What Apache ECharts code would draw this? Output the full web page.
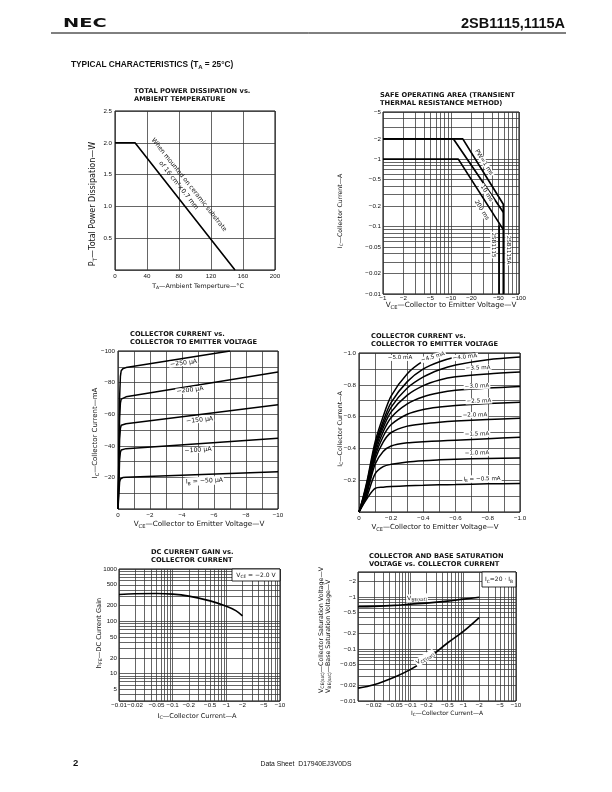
<!DOCTYPE html>
<html><head><meta charset="utf-8">
<script src="https://cdn.jsdelivr.net/npm/echarts@6/dist/echarts.min.js"></script>
<style>html,body{margin:0;padding:0;background:#fff}#c{width:612px;height:792px}</style>
</head><body><div id="c"></div>
<script>
// ================= DATA =================
// 1. Total power dissipation vs ambient temperature
const pdTempC = [0, 25, 150];
const pdPowerW = [2.0, 2.0, 0];

// 2. Safe operating area (|VCE| V, |IC| A)
const soaPw1V = [1, 14.9, 58.8, 58.8];
const soaPw1I = [2, 2, 0.214, 0.01];
const soaPw10V = [1, 10.8, 58.8];
const soaPw10I = [2, 2, 0.163];
const soaPw200V = [1, 12.8, 58.8];
const soaPw200I = [1, 1, 0.09];
const soa1115V = [51, 51];
const soa1115I = [0.105, 0.01];
const soaXLabels = [1, 2, 5, 10, 20, 50, 100];
const soaYLabels = [0.01, 0.02, 0.05, 0.1, 0.2, 0.5, 1, 2, 5];

// 3. IC (mA) vs VCE (V), IB in uA
const icmVce = [0, -0.05, -0.1, -0.15, -0.2, -0.3, -0.5, -10];
const icmIb50 = [0, -9, -17, -19, -19.6, -19.9, -20.1, -23.5];
const icmIb100 = [0, -15, -31, -36, -37.3, -37.8, -38.2, -44.8];
const icmIb150 = [0, -20, -44, -51, -53, -53.7, -54, -66];
const icmIb200 = [0, -25, -58, -67, -69.5, -70.5, -71, -86.7];
const icmVce250 = [0, -0.05, -0.1, -0.15, -0.2, -0.3, -0.5, -7];
const icmIb250 = [0, -30, -70, -84, -87.5, -88.8, -89.5, -100];

// 4. IC (A) vs VCE (V), IB in mA
const icaVce = [0, -0.025, -0.05, -0.1, -0.15, -0.2, -0.3, -0.4, -0.5, -0.6, -0.8, -1.0];
const icaIb05 = [0, -0.045, -0.085, -0.148, -0.156, -0.16, -0.165, -0.168, -0.171, -0.173, -0.177, -0.18];
const icaIb10 = [0, -0.05, -0.1, -0.24, -0.285, -0.3, -0.315, -0.323, -0.328, -0.332, -0.337, -0.34];
const icaIb15 = [0, -0.055, -0.12, -0.3, -0.38, -0.415, -0.435, -0.442, -0.447, -0.452, -0.461, -0.47];
const icaIb20 = [0, -0.06, -0.135, -0.33, -0.44, -0.5, -0.54, -0.555, -0.565, -0.572, -0.582, -0.59];
const icaIb25 = [0, -0.065, -0.145, -0.35, -0.475, -0.55, -0.615, -0.645, -0.66, -0.67, -0.682, -0.69];
const icaIb30 = [0, -0.07, -0.155, -0.37, -0.505, -0.595, -0.68, -0.725, -0.75, -0.765, -0.78, -0.79];
const icaIb35 = [0, -0.075, -0.165, -0.39, -0.53, -0.63, -0.735, -0.795, -0.83, -0.85, -0.868, -0.88];
const icaIb40 = [0, -0.08, -0.175, -0.405, -0.55, -0.66, -0.78, -0.85, -0.895, -0.925, -0.958, -0.975];
const icaVce45 = [0, -0.025, -0.05, -0.1, -0.15, -0.2, -0.3, -0.4, -0.5, -0.6, -0.72];
const icaIb45 = [0, -0.085, -0.185, -0.42, -0.57, -0.69, -0.82, -0.9, -0.945, -0.975, -1.0];
const icaVce50 = [0, -0.025, -0.05, -0.1, -0.15, -0.2, -0.3, -0.4, -0.5];
const icaIb50 = [0, -0.09, -0.195, -0.44, -0.6, -0.73, -0.87, -0.95, -1.0];

// 5. DC current gain vs |IC|
const hfeIc = [0.01, 0.02, 0.05, 0.1, 0.2, 0.5, 1, 1.5, 2];
const hfeVal = [326, 336, 340, 331, 303, 246, 194, 160, 127];
const hfeXLabels = [0.01, 0.02, 0.05, 0.1, 0.2, 0.5, 1, 2, 5, 10];
const hfeYLabels = [5, 10, 20, 50, 100, 200, 500, 1000];

// 6. Saturation voltages vs |IC|
const satIc = [0.01, 0.02, 0.05, 0.1, 0.2, 0.5, 1, 2];
const vbeSat = [0.646, 0.655, 0.685, 0.726, 0.758, 0.827, 0.903, 0.98];
const vceSat = [0.0177, 0.0205, 0.029, 0.0405, 0.0626, 0.13, 0.217, 0.40];
const satXLabels = [0.02, 0.05, 0.1, 0.2, 0.5, 1, 2, 5, 10];
const satYLabels = [0.01, 0.02, 0.05, 0.1, 0.2, 0.5, 1, 2];

// ================= CHART =================
const chart = echarts.init(document.getElementById('c'), null, {renderer: 'canvas', width: 612, height: 792});
const F_TXT = 'DejaVu Sans';
const F_TICK = 'Liberation Sans';
const MINUS = '\u2212';
const SPLIT_STYLE = {color: '#333', width: 0.75};
const TICKLBL = {fontSize: 6.2, fontFamily: F_TICK, color: '#111', margin: 3};
const fmtNum = v => String(Number(Number(v).toPrecision(3)));
const NEG = v => MINUS + fmtNum(Math.abs(v));
const negFix = v => v === 0 ? '0' : MINUS + Math.abs(v).toFixed(1);
const zip = (xs, ys) => xs.map((x, i) => [x, ys[i]]);

function logGrid(min, max) {
  const out = [];
  for (let k = Math.floor(Math.log10(min)); k <= Math.ceil(Math.log10(max)); k++) {
    for (let m = 1; m <= 9; m++) {
      const v = Number((m * Math.pow(10, k)).toPrecision(3));
      if (v >= min * 0.999 && v <= max * 1.001) out.push(v);
    }
  }
  return out;
}
function linAxis(gi, min, max, interval, minor, formatter, inverse, margin) {
  return {gridIndex: gi, type: 'value', min, max, interval, inverse: !!inverse,
    axisLine: {show: false}, axisTick: {show: false},
    axisLabel: Object.assign({}, TICKLBL, {formatter}, margin != null ? {margin} : {}),
    splitLine: {show: true, lineStyle: SPLIT_STYLE},
    minorTick: {show: false, splitNumber: minor || 1},
    minorSplitLine: {show: !!minor, lineStyle: SPLIT_STYLE}};
}
function logAxis(gi, min, max, labels, formatter, margin) {
  return {gridIndex: gi, type: 'log', logBase: 10, min, max,
    axisLine: {show: false},
    axisTick: {show: false, customValues: logGrid(min, max)},
    axisLabel: Object.assign({}, TICKLBL, {customValues: labels, formatter}, margin != null ? {margin} : {}),
    splitLine: {show: true, lineStyle: SPLIT_STYLE}};
}
function grid(left, top, width, height) {
  return {left, top, width, height, show: true, borderColor: '#000', borderWidth: 1,
    backgroundColor: 'rgba(0,0,0,0)', containLabel: false, outerBoundsMode: 'none'};
}
function line(gi, xs, ys, o) {
  o = o || {};
  return {type: 'line', xAxisIndex: gi, yAxisIndex: gi, data: zip(xs, ys),
    showSymbol: false, symbol: 'none', smooth: o.smooth || false,
    lineStyle: {color: '#000', width: o.w || 1.5}, silent: true, animation: false, z: 5};
}

const option = {
  animation: false,
  backgroundColor: '#fff',
  grid: [
    grid(115, 111, 160, 159),
    grid(383, 112, 136, 182),
    grid(118, 351, 160, 158),
    grid(359, 353, 161, 159),
    grid(119, 569, 161, 132),
    grid(358, 572, 158, 129)
  ],
  xAxis: [
    linAxis(0, 0, 200, 40, 0, v => String(v)),
    logAxis(1, 1, 100, soaXLabels, NEG, 1),
    linAxis(2, -10, 0, 2, 2, v => v === 0 ? '0' : MINUS + Math.abs(v), true),
    linAxis(3, -1, 0, 0.2, 2, negFix, true),
    logAxis(4, 0.01, 10, hfeXLabels, NEG, 1.5),
    logAxis(5, 0.01, 10, satXLabels, NEG, 1.5)
  ],
  yAxis: [
    linAxis(0, 0, 2.5, 0.5, 0, v => v === 0 ? '' : v.toFixed(1)),
    logAxis(1, 0.01, 5, soaYLabels, NEG, 2),
    linAxis(2, -100, 0, 20, 2, v => v === 0 ? '' : MINUS + Math.abs(v), true),
    linAxis(3, -1, 0, 0.2, 2, v => v === 0 ? '' : negFix(v), true),
    logAxis(4, 3, 1000, hfeYLabels, v => fmtNum(v), 2),
    logAxis(5, 0.01, 3, satYLabels, NEG, 2)
  ],
  series: [
    line(0, pdTempC, pdPowerW, {w: 1.6}),
    line(1, soaPw1V, soaPw1I, {w: 1.7}),
    line(1, soaPw10V, soaPw10I, {w: 1.7}),
    line(1, soaPw200V, soaPw200I, {w: 1.7}),
    line(1, soa1115V, soa1115I, {w: 1.7}),
    line(2, icmVce, icmIb50), line(2, icmVce, icmIb100), line(2, icmVce, icmIb150),
    line(2, icmVce, icmIb200), line(2, icmVce250, icmIb250),
    line(3, icaVce, icaIb05, {smooth: 0.3}), line(3, icaVce, icaIb10, {smooth: 0.3}),
    line(3, icaVce, icaIb15, {smooth: 0.3}), line(3, icaVce, icaIb20, {smooth: 0.3}),
    line(3, icaVce, icaIb25, {smooth: 0.3}), line(3, icaVce, icaIb30, {smooth: 0.3}),
    line(3, icaVce, icaIb35, {smooth: 0.3}), line(3, icaVce, icaIb40, {smooth: 0.3}),
    line(3, icaVce45, icaIb45, {smooth: 0.3}), line(3, icaVce50, icaIb50, {smooth: 0.3}),
    line(4, hfeIc, hfeVal, {smooth: 0.35, w: 1.6}),
    line(5, satIc, vbeSat, {smooth: 0.35, w: 1.6}),
    line(5, satIc, vceSat, {smooth: 0.35, w: 1.6})
  ]
};
chart.setOption(option);

// ================= TEXT / ANNOTATIONS =================
function txt(x, y, text, o) {
  o = o || {};
  const fs = o.fs || 6.3, ff = o.ff || F_TXT, fw = o.fw || 'normal';
  const st = {
    text, fill: '#111', fontSize: fs, fontFamily: ff, fontWeight: fw,
    align: o.align || 'center', verticalAlign: o.va || 'middle',
    textAlign: o.align || 'center', textVerticalAlign: o.va || 'middle',
    rich: {
      n: {fontSize: fs, fontFamily: ff, fontWeight: fw, fill: '#111', color: '#111', lineHeight: fs * 1.35},
      s: {fontSize: fs * 0.72, fontFamily: ff, fontWeight: fw, fill: '#111', color: '#111', verticalAlign: 'bottom', lineHeight: fs * 0.95}
    }
  };
  if (o.lh) st.lineHeight = o.lh;
  if (o.bg) { st.backgroundColor = o.bg; st.padding = [0, 1]; }
  const el = {type: 'text', x, y, rotation: o.rot || 0, z: 100, silent: true, style: st};
  if (o.sx) el.scaleX = o.sx;
  return el;
}
const R90 = Math.PI / 2;
const els = [];
// page header / footer
els.push(txt(63, 24, 'NEC', {fs: 12.5, fw: 'bold', align: 'left', sx: 1.55}));
els.push(txt(565, 24, '2SB1115,1115A', {fs: 14.5, fw: 'bold', ff: F_TICK, align: 'right'}));
els.push({type: 'line', z: 100, silent: true, shape: {x1: 51, y1: 33, x2: 566, y2: 33}, style: {stroke: '#000', lineWidth: 1}});
els.push(txt(71, 65, '{n|TYPICAL CHARACTERISTICS (T}{s|A}{n| = 25°C)}', {fs: 8.3, fw: 'bold', ff: F_TICK, align: 'left'}));
els.push(txt(73, 763, '2', {fs: 9.5, fw: 'bold', ff: F_TICK, align: 'left'}));
els.push(txt(306, 764, 'Data Sheet  D17940EJ3V0DS', {fs: 6.8, ff: F_TICK}));

// chart titles
const TT = {fs: 6.7, fw: 'bold', align: 'left', va: 'top', lh: 7.5};
els.push(txt(134, 88, 'TOTAL POWER DISSIPATION vs.\nAMBIENT TEMPERATURE', TT));
els.push(txt(380, 92, 'SAFE OPERATING AREA (TRANSIENT\nTHERMAL RESISTANCE METHOD)', TT));
els.push(txt(130, 331, 'COLLECTOR CURRENT vs.\nCOLLECTOR TO EMITTER VOLTAGE', TT));
els.push(txt(371, 333, 'COLLECTOR CURRENT vs.\nCOLLECTOR TO EMITTER VOLTAGE', TT));
els.push(txt(151, 549, 'DC CURRENT GAIN vs.\nCOLLECTOR CURRENT', TT));
els.push(txt(369, 553, 'COLLECTOR AND BASE SATURATION\nVOLTAGE vs. COLLECTOR CURRENT', TT));

// axis titles
const VCE_T = '{n|V}{s|CE}{n|—Collector to Emitter Voltage—V}';
const IC_A = '{n|I}{s|C}{n|—Collector Current—A}';
els.push(txt(93, 204, '{n|P}{s|T}{n|—Total Power Dissipation—W}', {fs: 8, rot: R90}));
els.push(txt(198, 286, '{n|T}{s|A}{n|—Ambient Temperture—°C}', {fs: 6.3}));
els.push(txt(340, 211, IC_A, {fs: 6.2, rot: R90}));
els.push(txt(451, 305, VCE_T, {fs: 7.2}));
els.push(txt(95, 433, '{n|I}{s|C}{n|—Collector Current—mA}', {fs: 7.0, rot: R90}));
els.push(txt(199, 524, VCE_T, {fs: 7.2}));
els.push(txt(340, 429, IC_A, {fs: 6.3, rot: R90}));
els.push(txt(435, 527, VCE_T, {fs: 7.0}));
els.push(txt(99, 633, '{n|h}{s|FE}{n|—DC Current Gain}', {fs: 6.6, rot: R90}));
els.push(txt(197, 716, IC_A, {fs: 6.6}));
els.push(txt(321, 693, '{n|V}{s|CE(sat)}{n|—Collector Saturation Voltage—V}', {fs: 6.3, rot: R90, align: 'left'}));
els.push(txt(328, 693, '{n|V}{s|BE(sat)}{n|—Base Saturation Voltage—V}', {fs: 6.3, rot: R90, align: 'left'}));
els.push(txt(447, 713, IC_A, {fs: 6.0}));

// condition boxes (anchored to plot corners)
const c5 = chart.convertToPixel({gridIndex: 4}, [10, 1000]);
els.push({type: 'rect', z: 100, silent: true, shape: {x: c5[0] - 48, y: c5[1], width: 48, height: 12}, style: {fill: '#fff', stroke: '#000', lineWidth: 0.8}});
els.push(Object.assign(txt(c5[0] - 24, c5[1] + 6, '{n|V}{s|CE}{n| = ' + MINUS + '2.0 V}', {fs: 6}), {z: 101}));
const c6 = chart.convertToPixel({gridIndex: 5}, [10, 3]);
els.push({type: 'rect', z: 100, silent: true, shape: {x: c6[0] - 34, y: c6[1], width: 34, height: 15}, style: {fill: '#fff', stroke: '#000', lineWidth: 0.8}});
els.push(Object.assign(txt(c6[0] - 17, c6[1] + 7.5, '{n|I}{s|C}{n|=20 · I}{s|B}', {fs: 6}), {z: 101}));

// curve annotations in data coordinates: [grid, point, text, rotation, fontSize, whiteBackground]
const notes = [
  [0, [92.5, 1.34], 'When mounted on ceramic substrate', -0.9, 6.3, false],
  [0, [79.5, 1.33], 'of 16 cm²×0.7 mm', -0.9, 6.3, false],
  [1, [30.6, 0.898], 'PW=1 ms', -1.01, 6.0, true],
  [1, [33.5, 0.311], '10 ms', -1.01, 6.0, true],
  [1, [28.3, 0.176], '200 ms', -1.01, 6.0, true],
  [1, [41.9, 0.0533], '2SB1115', -R90, 5.5, true],
  [1, [69.6, 0.0449], '2SB1115A', -R90, 5.5, true],
  [2, [-4.1, -92.4], MINUS + '250 μA', 0.12, 6.2, true],
  [2, [-4.5, -75.3], MINUS + '200 μA', 0.12, 6.2, true],
  [2, [-5.1, -56.3], MINUS + '150 μA', 0.1, 6.2, true],
  [2, [-5.0, -37.3], MINUS + '100 μA', 0.07, 6.2, true],
  [2, [-5.4, -17.7], '{n|I}{s|B}{n| = ' + MINUS + '50 μA}', 0.05, 6.2, true],
  [3, [-0.255, -0.969], MINUS + '5.0 mA', 0, 5.6, true],
  [3, [-0.46, -0.975], MINUS + '4.5 mA', 0.28, 5.6, true],
  [3, [-0.658, -0.975], MINUS + '4.0 mA', 0.1, 5.6, true],
  [3, [-0.74, -0.906], MINUS + '3.5 mA', 0.03, 5.6, true],
  [3, [-0.733, -0.792], MINUS + '3.0 mA', 0.03, 5.6, true],
  [3, [-0.745, -0.698], MINUS + '2.5 mA', 0.03, 5.6, true],
  [3, [-0.72, -0.61], MINUS + '2.0 mA', 0.02, 5.6, true],
  [3, [-0.733, -0.49], MINUS + '1.5 mA', 0.02, 5.6, true],
  [3, [-0.733, -0.371], MINUS + '1.0 mA', 0.02, 5.6, true],
  [3, [-0.764, -0.208], '{n|I}{s|B}{n| = ' + MINUS + '0.5 mA}', 0.02, 5.6, true],
  [5, [0.132, 0.95], '{n|V}{s|BE(sat)}', 0.06, 6.0, true],
  [5, [0.187, 0.067], '{n|V}{s|CE(sat)}', 0.55, 6.0, true]
];
notes.forEach(n => {
  const p = chart.convertToPixel({gridIndex: n[0]}, n[1]);
  els.push(txt(p[0], p[1], n[2], {fs: n[4], rot: n[3], bg: n[5] ? '#fff' : null}));
});

chart.setOption({graphic: {elements: els}});
</script>
</body></html>
